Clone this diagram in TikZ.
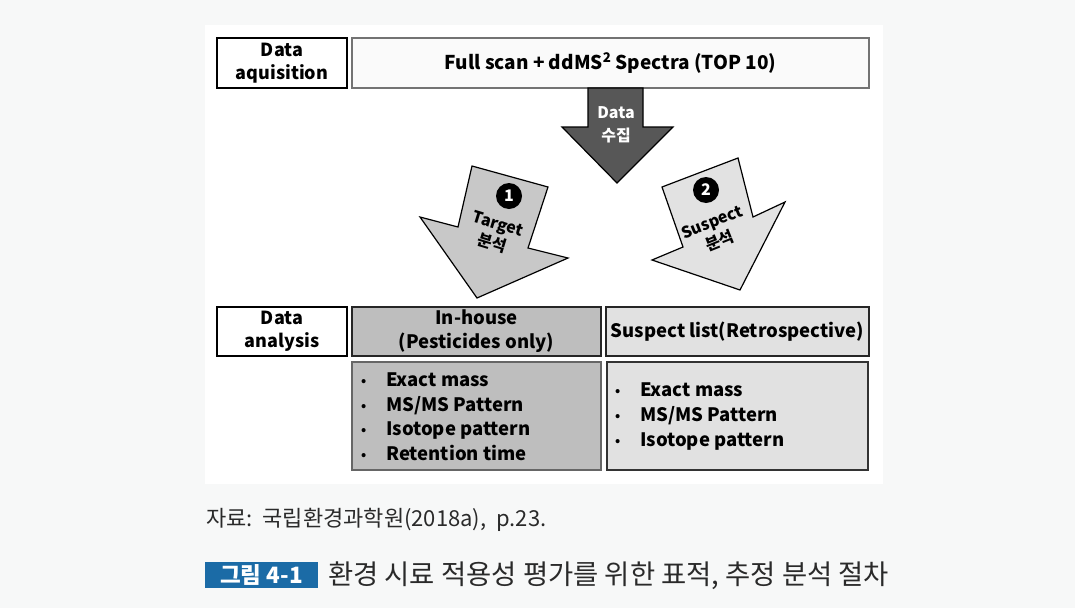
\documentclass[tikz,border=0pt]{standalone}
\usepackage{fontspec}
\setmainfont{Noto Sans CJK KR}
\usetikzlibrary{shapes.geometric}
\definecolor{pagebg}{HTML}{F7F8F8}
\definecolor{darkarrow}{HTML}{575757}
\definecolor{arrowL}{HTML}{C8C8C8}
\definecolor{arrowR}{HTML}{E2E2E2}
\definecolor{midgray}{HTML}{BEBEBE}
\definecolor{lightbox}{HTML}{E1E1E1}
\definecolor{capblue}{HTML}{1B6BA6}
\definecolor{captext}{HTML}{2A2A2A}
\newcommand{\fs}[1]{\fontsize{#1}{#1}\selectfont}
\newcommand{\bul}{\makebox[25pt][l]{\raisebox{1pt}{\scalebox{0.7}{•}}}}
\begin{document}
\begin{tikzpicture}[x=1pt,y=-1pt,
  labelbox/.style={draw=black,line width=1.8pt,fill=white,minimum width=130pt,minimum height=50pt,align=center,inner sep=0pt,font=\fontsize{18}{23.5}\selectfont\bfseries,text=black},
  headbox/.style={draw=black!85,line width=1.6pt,minimum height=49pt,align=center,inner sep=0pt,font=\fontsize{18.5}{24}\selectfont\bfseries},
  listbox/.style={draw=black!60,line width=1.2pt,minimum height=108pt,inner sep=0pt},
  listtext/.style={anchor=west,align=left,inner sep=0pt,font=\fontsize{18.5}{24.5}\selectfont\bfseries},
  bigarrow/.style={draw=black,line width=1.2pt,line join=miter},
  numdot/.style={circle,fill=black,minimum size=26pt,inner sep=0pt,text=white,font=\fs{16}\bfseries},
  arrowtext/.style={inner sep=0pt,align=center,font=\fontsize{16}{20.5}\selectfont\bfseries}
]
\useasboundingbox (0,0) rectangle (1075,608);
\fill[pagebg] (0,0) rectangle (1075,608);
\fill[white] (205,25) rectangle (883,484);

% top row
\node[labelbox] (acq) at (282,63) {Data\\aquisition};
\node[headbox,draw=black!55,fill=white!98!black,minimum width=517pt,minimum height=50pt,font=\fs{19}\bfseries] (scan) at (610.5,63) {Full scan + ddMS\textsuperscript{2} Spectra (TOP 10)};

% dark arrow
\draw[bigarrow,fill=darkarrow] (588,88) -- (643,88) -- (643,127) -- (673,127) -- (617,183) -- (562,127) -- (588,127) -- cycle;
\node[arrowtext,text=white,font=\fontsize{16}{23}\selectfont\bfseries] (collect) at (616,125) {Data\\수집};

% left arrow (target)
\draw[bigarrow,fill=arrowL] (472,166) -- (548,187) -- (528,248) -- (568,258) -- (477,298) -- (420,217) -- (458,227) -- cycle;
\node[numdot] (n1) at (509,196) {1};
\node[arrowtext,rotate=-17] (tgt) at (495,234) {Target\\분석};

% right arrow (suspect)
\draw[bigarrow,fill=arrowR] (662,187) -- (738,158) -- (753,217) -- (785,202) -- (740,290) -- (652,260) -- (683,247) -- cycle;
\node[numdot] (n2) at (706,190) {2};
\node[arrowtext,rotate=22] (sus) at (716,232) {Suspect\\분석};

% bottom rows
\node[labelbox,minimum height=49pt] (ana) at (282,331.5) {Data\\analysis};
\node[headbox,fill=midgray,minimum width=249pt] (inh) at (476.5,331.5) {In-house\\(Pesticides only)};
\node[headbox,fill=lightbox,minimum width=263pt] (susl) at (737.5,331.5) {Suspect list(Retrospective)};

\node[listbox,fill=midgray,minimum width=249pt] (inlist) at (476.5,416) {};
\node[listbox,fill=lightbox,draw=black!80,minimum width=261pt] (suslist) at (737.5,416) {};
\node[listtext] (initems) at (361,416.5) {\bul Exact mass\\\bul MS/MS Pattern\\\bul Isotope pattern\\\bul Retention time};
\node[listtext,font=\fontsize{18.5}{25}\selectfont\bfseries] (susitems) at (615,417) {\bul Exact mass\\\bul MS/MS Pattern\\\bul Isotope pattern};

% captions
\node[anchor=west,inner sep=0pt,text=captext,font=\fs{22}] (src) at (206,520) {자료:\ \ 국립환경과학원(2018a),\ \ p.23.};
\node[fill=capblue,text=white,minimum width=113pt,minimum height=26pt,inner sep=0pt,font=\fs{22.5}\bfseries] (fig) at (261.5,575) {그림 4-1};
\node[anchor=west,inner sep=0pt,text=captext,font=\fs{27.4}] (title) at (328,576) {환경 시료 적용성 평가를 위한 표적, 추정 분석 절차};
\end{tikzpicture}
\end{document}
